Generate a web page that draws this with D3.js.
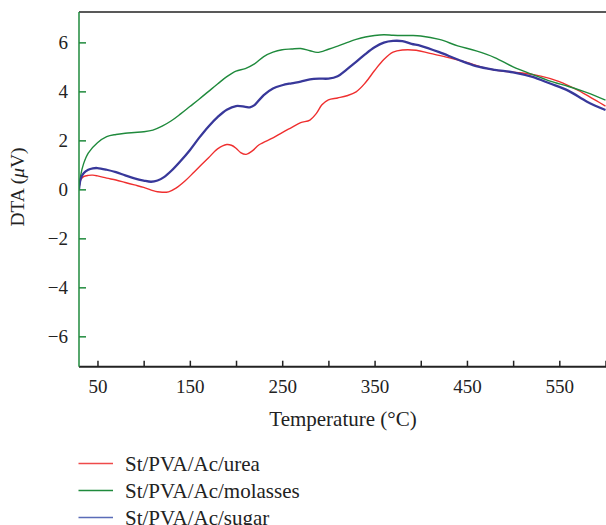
<!DOCTYPE html>
<html>
<head>
<meta charset="utf-8">
<script src="https://cdn.jsdelivr.net/npm/d3@7"></script>
<style>
  html, body { margin: 0; padding: 0; background: #fff; }
  svg { display: block; }
  text { font-family: "Liberation Serif", "DejaVu Serif", serif; fill: #222; }
</style>
</head>
<body>
<svg id="chart" width="606" height="525"></svg>
<script>
// DTA curves (µV) versus temperature (°C) for the three blends
const ureaTemp = [30, 32, 35, 40, 45, 50, 60, 70, 80, 90, 100, 110, 115, 120, 127, 135, 145, 155, 170, 180, 190, 195, 200, 205, 211, 218, 225, 240, 250, 260, 270, 280, 287, 293, 300, 310, 320, 330, 340, 350, 360, 370, 380, 395, 410, 430, 450, 470, 490, 510, 530, 550, 570, 590, 600];
const ureaDTA  = [0, 0.4, 0.52, 0.57, 0.58, 0.55, 0.46, 0.38, 0.28, 0.18, 0.08, -0.05, -0.1, -0.12, -0.1, 0.05, 0.35, 0.72, 1.28, 1.65, 1.83, 1.8, 1.68, 1.5, 1.43, 1.58, 1.82, 2.1, 2.32, 2.52, 2.72, 2.83, 3.1, 3.45, 3.65, 3.73, 3.82, 3.98, 4.35, 4.85, 5.3, 5.6, 5.69, 5.68, 5.55, 5.38, 5.18, 4.95, 4.82, 4.75, 4.62, 4.4, 4.05, 3.62, 3.4];

const molassesTemp = [30, 32, 35, 40, 50, 60, 70, 80, 90, 100, 110, 120, 130, 140, 150, 160, 170, 180, 190, 200, 210, 220, 230, 240, 250, 260, 270, 280, 288, 300, 310, 320, 330, 340, 350, 360, 370, 380, 390, 400, 420, 440, 460, 480, 500, 520, 540, 560, 580, 600];
const molassesDTA  = [0, 0.6, 1.05, 1.48, 1.9, 2.15, 2.24, 2.29, 2.32, 2.35, 2.42, 2.58, 2.8, 3.08, 3.38, 3.68, 3.99, 4.3, 4.6, 4.83, 4.93, 5.12, 5.42, 5.6, 5.7, 5.73, 5.75, 5.66, 5.59, 5.72, 5.85, 5.99, 6.12, 6.22, 6.28, 6.31, 6.29, 6.28, 6.28, 6.26, 6.12, 5.86, 5.65, 5.38, 5.0, 4.7, 4.42, 4.2, 3.95, 3.64];

const sugarTemp = [30, 32, 35, 40, 45, 50, 60, 70, 80, 90, 100, 108, 115, 122, 130, 140, 150, 160, 170, 180, 190, 200, 210, 215, 220, 230, 240, 250, 260, 270, 280, 290, 300, 310, 320, 330, 340, 350, 360, 370, 380, 390, 400, 420, 440, 460, 480, 500, 520, 540, 560, 580, 600];
const sugarDTA  = [0, 0.45, 0.66, 0.8, 0.86, 0.87, 0.8, 0.7, 0.57, 0.45, 0.36, 0.31, 0.36, 0.5, 0.76, 1.16, 1.6, 2.1, 2.56, 2.95, 3.25, 3.4, 3.37, 3.35, 3.44, 3.85, 4.12, 4.25, 4.33, 4.4, 4.49, 4.52, 4.52, 4.62, 4.9, 5.2, 5.52, 5.8, 5.99, 6.06, 6.05, 5.94, 5.86, 5.6, 5.3, 5.03, 4.88, 4.78, 4.6, 4.32, 4.02, 3.58, 3.24];

const seriesNames = ["St/PVA/Ac/urea", "St/PVA/Ac/molasses", "St/PVA/Ac/sugar"];
const xTicks = [50, 100, 150, 200, 250, 300, 350, 400, 450, 500, 550, 600];
const xTickLabels = [50, 150, 250, 350, 450, 550];
const yTicks = [-6, -4, -2, 0, 2, 4, 6];

const series = [
  { name: seriesNames[0], t: ureaTemp, v: ureaDTA, color: "#ef2f2f", width: 1.4, legend: "#ef4a4a" },
  { name: seriesNames[1], t: molassesTemp, v: molassesDTA, color: "#1f8a3c", width: 1.4, legend: "#1f8a3c" },
  { name: seriesNames[2], t: sugarTemp, v: sugarDTA, color: "#38389a", width: 2.3, legend: "#5a6cb8" }
];

const svg = d3.select("#chart");
const plotLeft = 79, plotRight = 605.5, plotTop = 12, plotBottom = 366.7;

const x = d3.scaleLinear().domain([30, 600]).range([plotLeft, plotRight]);
const y = d3.scaleLinear().domain([-7.24, 7.24]).range([plotBottom, plotTop]);

svg.append("defs").append("clipPath").attr("id", "plotClip")
  .append("rect").attr("x", plotLeft).attr("y", plotTop)
  .attr("width", plotRight - plotLeft + 1).attr("height", plotBottom - plotTop);

// Curves
const line = d3.line()
  .x(d => x(d[0]))
  .y(d => y(d[1]))
  .curve(d3.curveCatmullRom.alpha(0.5));

const plot = svg.append("g").attr("clip-path", "url(#plotClip)");
series.forEach(s => {
  plot.append("path")
    .datum(s.t.map((t, i) => [t, s.v[i]]))
    .attr("fill", "none")
    .attr("stroke", s.color)
    .attr("stroke-width", s.width)
    .attr("stroke-linejoin", "round")
    .attr("d", line);
});

// Top frame line
svg.append("line")
  .attr("x1", plotLeft).attr("x2", 606).attr("y1", plotTop).attr("y2", plotTop)
  .attr("stroke", "#222").attr("stroke-width", 1.5);

// X axis (ticks pointing inward)
const xAxis = d3.axisBottom(x)
  .tickValues(xTicks)
  .tickSizeInner(-6)
  .tickSizeOuter(0)
  .tickPadding(13)
  .tickFormat(d => xTickLabels.includes(d) ? String(d) : "");
const gx = svg.append("g").attr("transform", `translate(0,${plotBottom})`).call(xAxis);
gx.select(".domain").attr("stroke", "#222").attr("stroke-width", 2).attr("d", `M${plotLeft},0H606`);
gx.selectAll(".tick line").attr("stroke", "#222").attr("stroke-width", 1.5);
gx.selectAll(".tick text").attr("font-size", 19).attr("fill", "#222")
  .attr("font-family", "Liberation Serif, serif");

// Y axis (green, ticks pointing inward)
const yAxis = d3.axisLeft(y)
  .tickValues(yTicks)
  .tickSizeInner(-7)
  .tickSizeOuter(0)
  .tickPadding(11)
  .tickFormat(d3.format("d"));
const gy = svg.append("g").attr("transform", `translate(${plotLeft},0)`).call(yAxis);
gy.select(".domain").attr("stroke", "#1f8a3c").attr("stroke-width", 1.5).attr("d", `M0,${plotTop}V${plotBottom}`);
gy.selectAll(".tick line").attr("stroke", "#1f8a3c").attr("stroke-width", 1.5);
gy.selectAll(".tick text").attr("font-size", 19).attr("fill", "#222")
  .attr("font-family", "Liberation Serif, serif");

// Axis titles
svg.append("text")
  .attr("x", 343).attr("y", 426)
  .attr("text-anchor", "middle").attr("font-size", 21)
  .text("Temperature (°C)");

const yTitle = svg.append("text")
  .attr("transform", "translate(24,187) rotate(-90)")
  .attr("text-anchor", "middle").attr("font-size", 19.5);
yTitle.append("tspan").text("DTA (");
yTitle.append("tspan").attr("font-style", "italic").text("μ");
yTitle.append("tspan").text("V)");

// Legend
const legend = svg.append("g");
series.forEach((s, i) => {
  const ly = 463.5 + i * 27;
  legend.append("line")
    .attr("x1", 78.5).attr("x2", 113).attr("y1", ly).attr("y2", ly)
    .attr("stroke", s.legend).attr("stroke-width", 1.4);
  legend.append("text")
    .attr("x", 125).attr("y", ly + 7)
    .attr("font-size", 21)
    .text(s.name);
});
</script>
</body>
</html>
